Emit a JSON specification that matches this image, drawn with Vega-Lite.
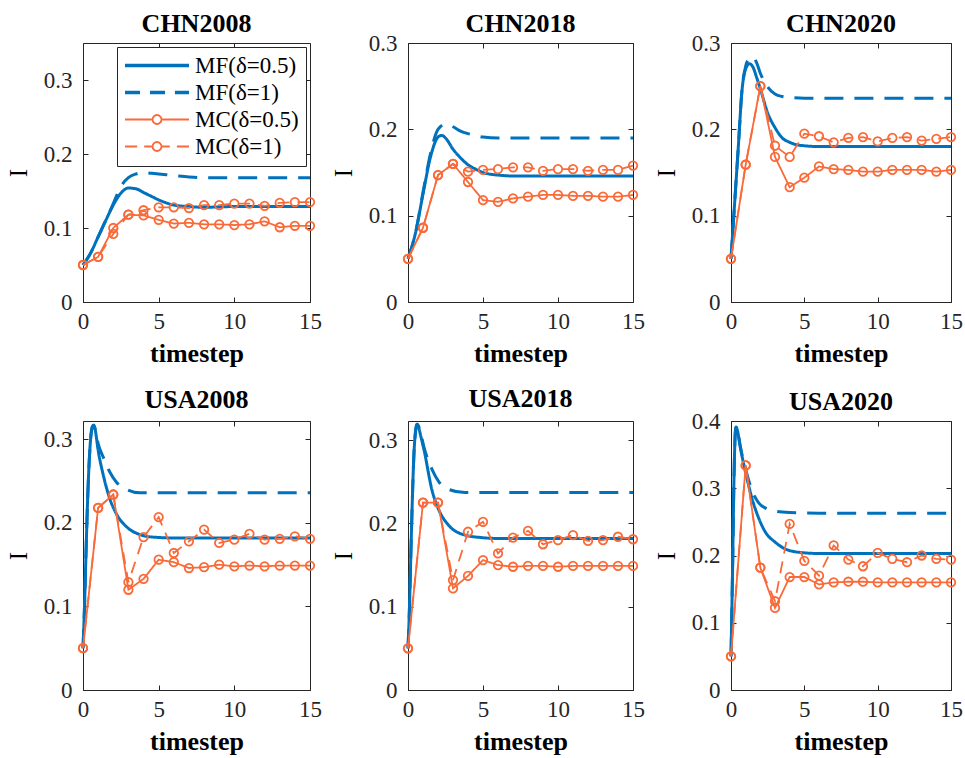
{
"$schema": "https://vega.github.io/schema/vega-lite/v6.json",
"padding": {"left": 5, "top": 10, "right": 0, "bottom": 0},
"datasets": {
"mf": [
{"p":"CHN2008","s":"MF(δ=0.5)","t":0,"v":0.05},{"p":"CHN2008","s":"MF(δ=0.5)","t":0.5,"v":0.066},{"p":"CHN2008","s":"MF(δ=0.5)","t":1,"v":0.088},{"p":"CHN2008","s":"MF(δ=0.5)","t":1.5,"v":0.11},{"p":"CHN2008","s":"MF(δ=0.5)","t":2,"v":0.131},{"p":"CHN2008","s":"MF(δ=0.5)","t":2.5,"v":0.147},{"p":"CHN2008","s":"MF(δ=0.5)","t":3,"v":0.154},{"p":"CHN2008","s":"MF(δ=0.5)","t":3.5,"v":0.153},{"p":"CHN2008","s":"MF(δ=0.5)","t":4,"v":0.148},{"p":"CHN2008","s":"MF(δ=0.5)","t":4.5,"v":0.143},{"p":"CHN2008","s":"MF(δ=0.5)","t":5,"v":0.138},{"p":"CHN2008","s":"MF(δ=0.5)","t":5.5,"v":0.134},{"p":"CHN2008","s":"MF(δ=0.5)","t":6,"v":0.131},{"p":"CHN2008","s":"MF(δ=0.5)","t":7,"v":0.129},{"p":"CHN2008","s":"MF(δ=0.5)","t":8,"v":0.128},{"p":"CHN2008","s":"MF(δ=0.5)","t":10,"v":0.129},{"p":"CHN2008","s":"MF(δ=0.5)","t":12,"v":0.129},{"p":"CHN2008","s":"MF(δ=0.5)","t":15,"v":0.129},
{"p":"CHN2008","s":"MF(δ=1)","t":0,"v":0.05},{"p":"CHN2008","s":"MF(δ=1)","t":0.5,"v":0.066},{"p":"CHN2008","s":"MF(δ=1)","t":1,"v":0.088},{"p":"CHN2008","s":"MF(δ=1)","t":1.5,"v":0.11},{"p":"CHN2008","s":"MF(δ=1)","t":2,"v":0.133},{"p":"CHN2008","s":"MF(δ=1)","t":2.5,"v":0.156},{"p":"CHN2008","s":"MF(δ=1)","t":3,"v":0.168},{"p":"CHN2008","s":"MF(δ=1)","t":3.5,"v":0.173},{"p":"CHN2008","s":"MF(δ=1)","t":4,"v":0.175},{"p":"CHN2008","s":"MF(δ=1)","t":4.5,"v":0.174},{"p":"CHN2008","s":"MF(δ=1)","t":5,"v":0.173},{"p":"CHN2008","s":"MF(δ=1)","t":6,"v":0.171},{"p":"CHN2008","s":"MF(δ=1)","t":7,"v":0.169},{"p":"CHN2008","s":"MF(δ=1)","t":8,"v":0.168},{"p":"CHN2008","s":"MF(δ=1)","t":10,"v":0.168},{"p":"CHN2008","s":"MF(δ=1)","t":12,"v":0.168},{"p":"CHN2008","s":"MF(δ=1)","t":15,"v":0.168},
{"p":"CHN2018","s":"MF(δ=0.5)","t":0,"v":0.05},{"p":"CHN2018","s":"MF(δ=0.5)","t":0.5,"v":0.08},{"p":"CHN2018","s":"MF(δ=0.5)","t":1,"v":0.125},{"p":"CHN2018","s":"MF(δ=0.5)","t":1.5,"v":0.168},{"p":"CHN2018","s":"MF(δ=0.5)","t":2,"v":0.191},{"p":"CHN2018","s":"MF(δ=0.5)","t":2.25,"v":0.193},{"p":"CHN2018","s":"MF(δ=0.5)","t":2.5,"v":0.19},{"p":"CHN2018","s":"MF(δ=0.5)","t":3,"v":0.177},{"p":"CHN2018","s":"MF(δ=0.5)","t":3.5,"v":0.167},{"p":"CHN2018","s":"MF(δ=0.5)","t":4,"v":0.159},{"p":"CHN2018","s":"MF(δ=0.5)","t":4.5,"v":0.154},{"p":"CHN2018","s":"MF(δ=0.5)","t":5,"v":0.15},{"p":"CHN2018","s":"MF(δ=0.5)","t":5.5,"v":0.148},{"p":"CHN2018","s":"MF(δ=0.5)","t":6,"v":0.147},{"p":"CHN2018","s":"MF(δ=0.5)","t":7,"v":0.146},{"p":"CHN2018","s":"MF(δ=0.5)","t":8,"v":0.146},{"p":"CHN2018","s":"MF(δ=0.5)","t":10,"v":0.146},{"p":"CHN2018","s":"MF(δ=0.5)","t":15,"v":0.146},
{"p":"CHN2018","s":"MF(δ=1)","t":0,"v":0.05},{"p":"CHN2018","s":"MF(δ=1)","t":0.5,"v":0.08},{"p":"CHN2018","s":"MF(δ=1)","t":1,"v":0.127},{"p":"CHN2018","s":"MF(δ=1)","t":1.5,"v":0.172},{"p":"CHN2018","s":"MF(δ=1)","t":2,"v":0.2},{"p":"CHN2018","s":"MF(δ=1)","t":2.5,"v":0.206},{"p":"CHN2018","s":"MF(δ=1)","t":3,"v":0.203},{"p":"CHN2018","s":"MF(δ=1)","t":3.5,"v":0.198},{"p":"CHN2018","s":"MF(δ=1)","t":4,"v":0.195},{"p":"CHN2018","s":"MF(δ=1)","t":4.5,"v":0.193},{"p":"CHN2018","s":"MF(δ=1)","t":5,"v":0.191},{"p":"CHN2018","s":"MF(δ=1)","t":6,"v":0.19},{"p":"CHN2018","s":"MF(δ=1)","t":8,"v":0.19},{"p":"CHN2018","s":"MF(δ=1)","t":10,"v":0.19},{"p":"CHN2018","s":"MF(δ=1)","t":15,"v":0.19},
{"p":"CHN2020","s":"MF(δ=0.5)","t":0,"v":0.05},{"p":"CHN2020","s":"MF(δ=0.5)","t":0.25,"v":0.115},{"p":"CHN2020","s":"MF(δ=0.5)","t":0.5,"v":0.18},{"p":"CHN2020","s":"MF(δ=0.5)","t":0.75,"v":0.245},{"p":"CHN2020","s":"MF(δ=0.5)","t":1,"v":0.27},{"p":"CHN2020","s":"MF(δ=0.5)","t":1.25,"v":0.276},{"p":"CHN2020","s":"MF(δ=0.5)","t":1.5,"v":0.272},{"p":"CHN2020","s":"MF(δ=0.5)","t":1.75,"v":0.26},{"p":"CHN2020","s":"MF(δ=0.5)","t":2,"v":0.247},{"p":"CHN2020","s":"MF(δ=0.5)","t":2.5,"v":0.219},{"p":"CHN2020","s":"MF(δ=0.5)","t":3,"v":0.202},{"p":"CHN2020","s":"MF(δ=0.5)","t":3.5,"v":0.19},{"p":"CHN2020","s":"MF(δ=0.5)","t":4,"v":0.185},{"p":"CHN2020","s":"MF(δ=0.5)","t":4.5,"v":0.182},{"p":"CHN2020","s":"MF(δ=0.5)","t":5,"v":0.181},{"p":"CHN2020","s":"MF(δ=0.5)","t":6,"v":0.18},{"p":"CHN2020","s":"MF(δ=0.5)","t":8,"v":0.18},{"p":"CHN2020","s":"MF(δ=0.5)","t":15,"v":0.18},
{"p":"CHN2020","s":"MF(δ=1)","t":0,"v":0.05},{"p":"CHN2020","s":"MF(δ=1)","t":0.25,"v":0.115},{"p":"CHN2020","s":"MF(δ=1)","t":0.5,"v":0.18},{"p":"CHN2020","s":"MF(δ=1)","t":0.75,"v":0.246},{"p":"CHN2020","s":"MF(δ=1)","t":1,"v":0.273},{"p":"CHN2020","s":"MF(δ=1)","t":1.25,"v":0.282},{"p":"CHN2020","s":"MF(δ=1)","t":1.5,"v":0.284},{"p":"CHN2020","s":"MF(δ=1)","t":1.75,"v":0.277},{"p":"CHN2020","s":"MF(δ=1)","t":2,"v":0.265},{"p":"CHN2020","s":"MF(δ=1)","t":2.5,"v":0.249},{"p":"CHN2020","s":"MF(δ=1)","t":3,"v":0.241},{"p":"CHN2020","s":"MF(δ=1)","t":3.5,"v":0.238},{"p":"CHN2020","s":"MF(δ=1)","t":4,"v":0.237},{"p":"CHN2020","s":"MF(δ=1)","t":5,"v":0.236},{"p":"CHN2020","s":"MF(δ=1)","t":8,"v":0.236},{"p":"CHN2020","s":"MF(δ=1)","t":15,"v":0.236},
{"p":"USA2008","s":"MF(δ=0.5)","t":0,"v":0.05},{"p":"USA2008","s":"MF(δ=0.5)","t":0.1,"v":0.1},{"p":"USA2008","s":"MF(δ=0.5)","t":0.2,"v":0.165},{"p":"USA2008","s":"MF(δ=0.5)","t":0.3,"v":0.225},{"p":"USA2008","s":"MF(δ=0.5)","t":0.4,"v":0.27},{"p":"USA2008","s":"MF(δ=0.5)","t":0.5,"v":0.3},{"p":"USA2008","s":"MF(δ=0.5)","t":0.6,"v":0.314},{"p":"USA2008","s":"MF(δ=0.5)","t":0.7,"v":0.317},{"p":"USA2008","s":"MF(δ=0.5)","t":0.8,"v":0.312},{"p":"USA2008","s":"MF(δ=0.5)","t":1,"v":0.287},{"p":"USA2008","s":"MF(δ=0.5)","t":1.33,"v":0.258},{"p":"USA2008","s":"MF(δ=0.5)","t":1.77,"v":0.229},{"p":"USA2008","s":"MF(δ=0.5)","t":2.2,"v":0.211},{"p":"USA2008","s":"MF(δ=0.5)","t":2.9,"v":0.195},{"p":"USA2008","s":"MF(δ=0.5)","t":3.77,"v":0.186},{"p":"USA2008","s":"MF(δ=0.5)","t":4.65,"v":0.183},{"p":"USA2008","s":"MF(δ=0.5)","t":6,"v":0.182},{"p":"USA2008","s":"MF(δ=0.5)","t":15,"v":0.182},
{"p":"USA2008","s":"MF(δ=1)","t":0,"v":0.05},{"p":"USA2008","s":"MF(δ=1)","t":0.1,"v":0.1},{"p":"USA2008","s":"MF(δ=1)","t":0.2,"v":0.165},{"p":"USA2008","s":"MF(δ=1)","t":0.3,"v":0.225},{"p":"USA2008","s":"MF(δ=1)","t":0.4,"v":0.27},{"p":"USA2008","s":"MF(δ=1)","t":0.5,"v":0.3},{"p":"USA2008","s":"MF(δ=1)","t":0.6,"v":0.314},{"p":"USA2008","s":"MF(δ=1)","t":0.7,"v":0.317},{"p":"USA2008","s":"MF(δ=1)","t":0.8,"v":0.313},{"p":"USA2008","s":"MF(δ=1)","t":1,"v":0.295},{"p":"USA2008","s":"MF(δ=1)","t":1.33,"v":0.279},{"p":"USA2008","s":"MF(δ=1)","t":1.77,"v":0.261},{"p":"USA2008","s":"MF(δ=1)","t":2.2,"v":0.249},{"p":"USA2008","s":"MF(δ=1)","t":2.9,"v":0.24},{"p":"USA2008","s":"MF(δ=1)","t":3.77,"v":0.236},{"p":"USA2008","s":"MF(δ=1)","t":6,"v":0.236},{"p":"USA2008","s":"MF(δ=1)","t":15,"v":0.236},
{"p":"USA2018","s":"MF(δ=0.5)","t":0,"v":0.05},{"p":"USA2018","s":"MF(δ=0.5)","t":0.1,"v":0.1},{"p":"USA2018","s":"MF(δ=0.5)","t":0.2,"v":0.17},{"p":"USA2018","s":"MF(δ=0.5)","t":0.3,"v":0.235},{"p":"USA2018","s":"MF(δ=0.5)","t":0.4,"v":0.285},{"p":"USA2018","s":"MF(δ=0.5)","t":0.5,"v":0.31},{"p":"USA2018","s":"MF(δ=0.5)","t":0.6,"v":0.319},{"p":"USA2018","s":"MF(δ=0.5)","t":0.7,"v":0.316},{"p":"USA2018","s":"MF(δ=0.5)","t":0.85,"v":0.305},{"p":"USA2018","s":"MF(δ=0.5)","t":1.06,"v":0.289},{"p":"USA2018","s":"MF(δ=0.5)","t":1.6,"v":0.24},{"p":"USA2018","s":"MF(δ=0.5)","t":2.06,"v":0.216},{"p":"USA2018","s":"MF(δ=0.5)","t":2.7,"v":0.198},{"p":"USA2018","s":"MF(δ=0.5)","t":3.8,"v":0.186},{"p":"USA2018","s":"MF(δ=0.5)","t":4.9,"v":0.183},{"p":"USA2018","s":"MF(δ=0.5)","t":6,"v":0.182},{"p":"USA2018","s":"MF(δ=0.5)","t":15,"v":0.182},
{"p":"USA2018","s":"MF(δ=1)","t":0,"v":0.05},{"p":"USA2018","s":"MF(δ=1)","t":0.1,"v":0.1},{"p":"USA2018","s":"MF(δ=1)","t":0.2,"v":0.17},{"p":"USA2018","s":"MF(δ=1)","t":0.3,"v":0.235},{"p":"USA2018","s":"MF(δ=1)","t":0.4,"v":0.285},{"p":"USA2018","s":"MF(δ=1)","t":0.5,"v":0.31},{"p":"USA2018","s":"MF(δ=1)","t":0.6,"v":0.319},{"p":"USA2018","s":"MF(δ=1)","t":0.7,"v":0.317},{"p":"USA2018","s":"MF(δ=1)","t":0.85,"v":0.308},{"p":"USA2018","s":"MF(δ=1)","t":1.06,"v":0.292},{"p":"USA2018","s":"MF(δ=1)","t":1.6,"v":0.265},{"p":"USA2018","s":"MF(δ=1)","t":2.06,"v":0.25},{"p":"USA2018","s":"MF(δ=1)","t":2.7,"v":0.241},{"p":"USA2018","s":"MF(δ=1)","t":3.8,"v":0.237},{"p":"USA2018","s":"MF(δ=1)","t":6,"v":0.237},{"p":"USA2018","s":"MF(δ=1)","t":15,"v":0.237},
{"p":"USA2020","s":"MF(δ=0.5)","t":0,"v":0.05},{"p":"USA2020","s":"MF(δ=0.5)","t":0.1,"v":0.17},{"p":"USA2020","s":"MF(δ=0.5)","t":0.2,"v":0.31},{"p":"USA2020","s":"MF(δ=0.5)","t":0.3,"v":0.385},{"p":"USA2020","s":"MF(δ=0.5)","t":0.35,"v":0.391},{"p":"USA2020","s":"MF(δ=0.5)","t":0.45,"v":0.385},{"p":"USA2020","s":"MF(δ=0.5)","t":0.6,"v":0.365},{"p":"USA2020","s":"MF(δ=0.5)","t":0.75,"v":0.348},{"p":"USA2020","s":"MF(δ=0.5)","t":1,"v":0.323},{"p":"USA2020","s":"MF(δ=0.5)","t":1.43,"v":0.285},{"p":"USA2020","s":"MF(δ=0.5)","t":1.9,"v":0.255},{"p":"USA2020","s":"MF(δ=0.5)","t":2.34,"v":0.235},{"p":"USA2020","s":"MF(δ=0.5)","t":3,"v":0.22},{"p":"USA2020","s":"MF(δ=0.5)","t":3.9,"v":0.208},{"p":"USA2020","s":"MF(δ=0.5)","t":5,"v":0.204},{"p":"USA2020","s":"MF(δ=0.5)","t":6,"v":0.203},{"p":"USA2020","s":"MF(δ=0.5)","t":15,"v":0.203},
{"p":"USA2020","s":"MF(δ=1)","t":0,"v":0.05},{"p":"USA2020","s":"MF(δ=1)","t":0.1,"v":0.17},{"p":"USA2020","s":"MF(δ=1)","t":0.2,"v":0.31},{"p":"USA2020","s":"MF(δ=1)","t":0.3,"v":0.385},{"p":"USA2020","s":"MF(δ=1)","t":0.35,"v":0.391},{"p":"USA2020","s":"MF(δ=1)","t":0.45,"v":0.386},{"p":"USA2020","s":"MF(δ=1)","t":0.6,"v":0.367},{"p":"USA2020","s":"MF(δ=1)","t":0.75,"v":0.35},{"p":"USA2020","s":"MF(δ=1)","t":1,"v":0.328},{"p":"USA2020","s":"MF(δ=1)","t":1.43,"v":0.297},{"p":"USA2020","s":"MF(δ=1)","t":1.9,"v":0.278},{"p":"USA2020","s":"MF(δ=1)","t":2.4,"v":0.27},{"p":"USA2020","s":"MF(δ=1)","t":3,"v":0.266},{"p":"USA2020","s":"MF(δ=1)","t":4,"v":0.264},{"p":"USA2020","s":"MF(δ=1)","t":6,"v":0.263},{"p":"USA2020","s":"MF(δ=1)","t":15,"v":0.263}
],
"mc": [
{"p":"CHN2008","s":"MC(δ=0.5)","t":0,"v":0.05},{"p":"CHN2008","s":"MC(δ=0.5)","t":1,"v":0.061},{"p":"CHN2008","s":"MC(δ=0.5)","t":2,"v":0.1},{"p":"CHN2008","s":"MC(δ=0.5)","t":3,"v":0.118},{"p":"CHN2008","s":"MC(δ=0.5)","t":4,"v":0.117},{"p":"CHN2008","s":"MC(δ=0.5)","t":5,"v":0.111},{"p":"CHN2008","s":"MC(δ=0.5)","t":6,"v":0.106},{"p":"CHN2008","s":"MC(δ=0.5)","t":7,"v":0.107},{"p":"CHN2008","s":"MC(δ=0.5)","t":8,"v":0.105},{"p":"CHN2008","s":"MC(δ=0.5)","t":9,"v":0.105},{"p":"CHN2008","s":"MC(δ=0.5)","t":10,"v":0.104},{"p":"CHN2008","s":"MC(δ=0.5)","t":11,"v":0.105},{"p":"CHN2008","s":"MC(δ=0.5)","t":12,"v":0.109},{"p":"CHN2008","s":"MC(δ=0.5)","t":13,"v":0.101},{"p":"CHN2008","s":"MC(δ=0.5)","t":14,"v":0.103},{"p":"CHN2008","s":"MC(δ=0.5)","t":15,"v":0.103},
{"p":"CHN2008","s":"MC(δ=1)","t":0,"v":0.05},{"p":"CHN2008","s":"MC(δ=1)","t":1,"v":0.061},{"p":"CHN2008","s":"MC(δ=1)","t":2,"v":0.092},{"p":"CHN2008","s":"MC(δ=1)","t":3,"v":0.118},{"p":"CHN2008","s":"MC(δ=1)","t":4,"v":0.124},{"p":"CHN2008","s":"MC(δ=1)","t":5,"v":0.128},{"p":"CHN2008","s":"MC(δ=1)","t":6,"v":0.128},{"p":"CHN2008","s":"MC(δ=1)","t":7,"v":0.127},{"p":"CHN2008","s":"MC(δ=1)","t":8,"v":0.131},{"p":"CHN2008","s":"MC(δ=1)","t":9,"v":0.131},{"p":"CHN2008","s":"MC(δ=1)","t":10,"v":0.133},{"p":"CHN2008","s":"MC(δ=1)","t":11,"v":0.133},{"p":"CHN2008","s":"MC(δ=1)","t":12,"v":0.13},{"p":"CHN2008","s":"MC(δ=1)","t":13,"v":0.134},{"p":"CHN2008","s":"MC(δ=1)","t":14,"v":0.135},{"p":"CHN2008","s":"MC(δ=1)","t":15,"v":0.135},
{"p":"CHN2018","s":"MC(δ=0.5)","t":0,"v":0.05},{"p":"CHN2018","s":"MC(δ=0.5)","t":1,"v":0.086},{"p":"CHN2018","s":"MC(δ=0.5)","t":2,"v":0.147},{"p":"CHN2018","s":"MC(δ=0.5)","t":3,"v":0.16},{"p":"CHN2018","s":"MC(δ=0.5)","t":4,"v":0.139},{"p":"CHN2018","s":"MC(δ=0.5)","t":5,"v":0.118},{"p":"CHN2018","s":"MC(δ=0.5)","t":6,"v":0.116},{"p":"CHN2018","s":"MC(δ=0.5)","t":7,"v":0.12},{"p":"CHN2018","s":"MC(δ=0.5)","t":8,"v":0.122},{"p":"CHN2018","s":"MC(δ=0.5)","t":9,"v":0.124},{"p":"CHN2018","s":"MC(δ=0.5)","t":10,"v":0.124},{"p":"CHN2018","s":"MC(δ=0.5)","t":11,"v":0.123},{"p":"CHN2018","s":"MC(δ=0.5)","t":12,"v":0.123},{"p":"CHN2018","s":"MC(δ=0.5)","t":13,"v":0.122},{"p":"CHN2018","s":"MC(δ=0.5)","t":14,"v":0.122},{"p":"CHN2018","s":"MC(δ=0.5)","t":15,"v":0.124},
{"p":"CHN2018","s":"MC(δ=1)","t":0,"v":0.05},{"p":"CHN2018","s":"MC(δ=1)","t":1,"v":0.086},{"p":"CHN2018","s":"MC(δ=1)","t":2,"v":0.147},{"p":"CHN2018","s":"MC(δ=1)","t":3,"v":0.16},{"p":"CHN2018","s":"MC(δ=1)","t":4,"v":0.151},{"p":"CHN2018","s":"MC(δ=1)","t":5,"v":0.153},{"p":"CHN2018","s":"MC(δ=1)","t":6,"v":0.154},{"p":"CHN2018","s":"MC(δ=1)","t":7,"v":0.156},{"p":"CHN2018","s":"MC(δ=1)","t":8,"v":0.156},{"p":"CHN2018","s":"MC(δ=1)","t":9,"v":0.152},{"p":"CHN2018","s":"MC(δ=1)","t":10,"v":0.154},{"p":"CHN2018","s":"MC(δ=1)","t":11,"v":0.154},{"p":"CHN2018","s":"MC(δ=1)","t":12,"v":0.152},{"p":"CHN2018","s":"MC(δ=1)","t":13,"v":0.153},{"p":"CHN2018","s":"MC(δ=1)","t":14,"v":0.153},{"p":"CHN2018","s":"MC(δ=1)","t":15,"v":0.158},
{"p":"CHN2020","s":"MC(δ=0.5)","t":0,"v":0.05},{"p":"CHN2020","s":"MC(δ=0.5)","t":1,"v":0.159},{"p":"CHN2020","s":"MC(δ=0.5)","t":2,"v":0.25},{"p":"CHN2020","s":"MC(δ=0.5)","t":3,"v":0.168},{"p":"CHN2020","s":"MC(δ=0.5)","t":4,"v":0.133},{"p":"CHN2020","s":"MC(δ=0.5)","t":5,"v":0.144},{"p":"CHN2020","s":"MC(δ=0.5)","t":6,"v":0.157},{"p":"CHN2020","s":"MC(δ=0.5)","t":7,"v":0.154},{"p":"CHN2020","s":"MC(δ=0.5)","t":8,"v":0.153},{"p":"CHN2020","s":"MC(δ=0.5)","t":9,"v":0.151},{"p":"CHN2020","s":"MC(δ=0.5)","t":10,"v":0.151},{"p":"CHN2020","s":"MC(δ=0.5)","t":11,"v":0.153},{"p":"CHN2020","s":"MC(δ=0.5)","t":12,"v":0.153},{"p":"CHN2020","s":"MC(δ=0.5)","t":13,"v":0.153},{"p":"CHN2020","s":"MC(δ=0.5)","t":14,"v":0.151},{"p":"CHN2020","s":"MC(δ=0.5)","t":15,"v":0.153},
{"p":"CHN2020","s":"MC(δ=1)","t":0,"v":0.05},{"p":"CHN2020","s":"MC(δ=1)","t":1,"v":0.159},{"p":"CHN2020","s":"MC(δ=1)","t":2,"v":0.25},{"p":"CHN2020","s":"MC(δ=1)","t":3,"v":0.181},{"p":"CHN2020","s":"MC(δ=1)","t":4,"v":0.168},{"p":"CHN2020","s":"MC(δ=1)","t":5,"v":0.195},{"p":"CHN2020","s":"MC(δ=1)","t":6,"v":0.192},{"p":"CHN2020","s":"MC(δ=1)","t":7,"v":0.185},{"p":"CHN2020","s":"MC(δ=1)","t":8,"v":0.19},{"p":"CHN2020","s":"MC(δ=1)","t":9,"v":0.191},{"p":"CHN2020","s":"MC(δ=1)","t":10,"v":0.186},{"p":"CHN2020","s":"MC(δ=1)","t":11,"v":0.19},{"p":"CHN2020","s":"MC(δ=1)","t":12,"v":0.191},{"p":"CHN2020","s":"MC(δ=1)","t":13,"v":0.187},{"p":"CHN2020","s":"MC(δ=1)","t":14,"v":0.189},{"p":"CHN2020","s":"MC(δ=1)","t":15,"v":0.191},
{"p":"USA2008","s":"MC(δ=0.5)","t":0,"v":0.05},{"p":"USA2008","s":"MC(δ=0.5)","t":1,"v":0.218},{"p":"USA2008","s":"MC(δ=0.5)","t":2,"v":0.234},{"p":"USA2008","s":"MC(δ=0.5)","t":3,"v":0.12},{"p":"USA2008","s":"MC(δ=0.5)","t":4,"v":0.133},{"p":"USA2008","s":"MC(δ=0.5)","t":5,"v":0.156},{"p":"USA2008","s":"MC(δ=0.5)","t":6,"v":0.153},{"p":"USA2008","s":"MC(δ=0.5)","t":7,"v":0.146},{"p":"USA2008","s":"MC(δ=0.5)","t":8,"v":0.147},{"p":"USA2008","s":"MC(δ=0.5)","t":9,"v":0.15},{"p":"USA2008","s":"MC(δ=0.5)","t":10,"v":0.148},{"p":"USA2008","s":"MC(δ=0.5)","t":11,"v":0.149},{"p":"USA2008","s":"MC(δ=0.5)","t":12,"v":0.148},{"p":"USA2008","s":"MC(δ=0.5)","t":13,"v":0.149},{"p":"USA2008","s":"MC(δ=0.5)","t":14,"v":0.149},{"p":"USA2008","s":"MC(δ=0.5)","t":15,"v":0.149},
{"p":"USA2008","s":"MC(δ=1)","t":0,"v":0.05},{"p":"USA2008","s":"MC(δ=1)","t":1,"v":0.218},{"p":"USA2008","s":"MC(δ=1)","t":2,"v":0.234},{"p":"USA2008","s":"MC(δ=1)","t":3,"v":0.129},{"p":"USA2008","s":"MC(δ=1)","t":4,"v":0.183},{"p":"USA2008","s":"MC(δ=1)","t":5,"v":0.207},{"p":"USA2008","s":"MC(δ=1)","t":6,"v":0.164},{"p":"USA2008","s":"MC(δ=1)","t":7,"v":0.178},{"p":"USA2008","s":"MC(δ=1)","t":8,"v":0.192},{"p":"USA2008","s":"MC(δ=1)","t":9,"v":0.176},{"p":"USA2008","s":"MC(δ=1)","t":10,"v":0.18},{"p":"USA2008","s":"MC(δ=1)","t":11,"v":0.187},{"p":"USA2008","s":"MC(δ=1)","t":12,"v":0.18},{"p":"USA2008","s":"MC(δ=1)","t":13,"v":0.181},{"p":"USA2008","s":"MC(δ=1)","t":14,"v":0.184},{"p":"USA2008","s":"MC(δ=1)","t":15,"v":0.181},
{"p":"USA2018","s":"MC(δ=0.5)","t":0,"v":0.05},{"p":"USA2018","s":"MC(δ=0.5)","t":1,"v":0.225},{"p":"USA2018","s":"MC(δ=0.5)","t":2,"v":0.225},{"p":"USA2018","s":"MC(δ=0.5)","t":3,"v":0.122},{"p":"USA2018","s":"MC(δ=0.5)","t":4,"v":0.137},{"p":"USA2018","s":"MC(δ=0.5)","t":5,"v":0.156},{"p":"USA2018","s":"MC(δ=0.5)","t":6,"v":0.15},{"p":"USA2018","s":"MC(δ=0.5)","t":7,"v":0.148},{"p":"USA2018","s":"MC(δ=0.5)","t":8,"v":0.149},{"p":"USA2018","s":"MC(δ=0.5)","t":9,"v":0.149},{"p":"USA2018","s":"MC(δ=0.5)","t":10,"v":0.148},{"p":"USA2018","s":"MC(δ=0.5)","t":11,"v":0.149},{"p":"USA2018","s":"MC(δ=0.5)","t":12,"v":0.149},{"p":"USA2018","s":"MC(δ=0.5)","t":13,"v":0.149},{"p":"USA2018","s":"MC(δ=0.5)","t":14,"v":0.149},{"p":"USA2018","s":"MC(δ=0.5)","t":15,"v":0.149},
{"p":"USA2018","s":"MC(δ=1)","t":0,"v":0.05},{"p":"USA2018","s":"MC(δ=1)","t":1,"v":0.225},{"p":"USA2018","s":"MC(δ=1)","t":2,"v":0.225},{"p":"USA2018","s":"MC(δ=1)","t":3,"v":0.132},{"p":"USA2018","s":"MC(δ=1)","t":4,"v":0.19},{"p":"USA2018","s":"MC(δ=1)","t":5,"v":0.202},{"p":"USA2018","s":"MC(δ=1)","t":6,"v":0.164},{"p":"USA2018","s":"MC(δ=1)","t":7,"v":0.183},{"p":"USA2018","s":"MC(δ=1)","t":8,"v":0.191},{"p":"USA2018","s":"MC(δ=1)","t":9,"v":0.175},{"p":"USA2018","s":"MC(δ=1)","t":10,"v":0.18},{"p":"USA2018","s":"MC(δ=1)","t":11,"v":0.186},{"p":"USA2018","s":"MC(δ=1)","t":12,"v":0.179},{"p":"USA2018","s":"MC(δ=1)","t":13,"v":0.18},{"p":"USA2018","s":"MC(δ=1)","t":14,"v":0.184},{"p":"USA2018","s":"MC(δ=1)","t":15,"v":0.181},
{"p":"USA2020","s":"MC(δ=0.5)","t":0,"v":0.05},{"p":"USA2020","s":"MC(δ=0.5)","t":1,"v":0.334},{"p":"USA2020","s":"MC(δ=0.5)","t":2,"v":0.182},{"p":"USA2020","s":"MC(δ=0.5)","t":3,"v":0.122},{"p":"USA2020","s":"MC(δ=0.5)","t":4,"v":0.168},{"p":"USA2020","s":"MC(δ=0.5)","t":5,"v":0.168},{"p":"USA2020","s":"MC(δ=0.5)","t":6,"v":0.157},{"p":"USA2020","s":"MC(δ=0.5)","t":7,"v":0.16},{"p":"USA2020","s":"MC(δ=0.5)","t":8,"v":0.161},{"p":"USA2020","s":"MC(δ=0.5)","t":9,"v":0.161},{"p":"USA2020","s":"MC(δ=0.5)","t":10,"v":0.16},{"p":"USA2020","s":"MC(δ=0.5)","t":11,"v":0.16},{"p":"USA2020","s":"MC(δ=0.5)","t":12,"v":0.16},{"p":"USA2020","s":"MC(δ=0.5)","t":13,"v":0.16},{"p":"USA2020","s":"MC(δ=0.5)","t":14,"v":0.16},{"p":"USA2020","s":"MC(δ=0.5)","t":15,"v":0.16},
{"p":"USA2020","s":"MC(δ=1)","t":0,"v":0.05},{"p":"USA2020","s":"MC(δ=1)","t":1,"v":0.334},{"p":"USA2020","s":"MC(δ=1)","t":2,"v":0.182},{"p":"USA2020","s":"MC(δ=1)","t":3,"v":0.132},{"p":"USA2020","s":"MC(δ=1)","t":4,"v":0.247},{"p":"USA2020","s":"MC(δ=1)","t":5,"v":0.192},{"p":"USA2020","s":"MC(δ=1)","t":6,"v":0.17},{"p":"USA2020","s":"MC(δ=1)","t":7,"v":0.215},{"p":"USA2020","s":"MC(δ=1)","t":8,"v":0.194},{"p":"USA2020","s":"MC(δ=1)","t":9,"v":0.184},{"p":"USA2020","s":"MC(δ=1)","t":10,"v":0.204},{"p":"USA2020","s":"MC(δ=1)","t":11,"v":0.195},{"p":"USA2020","s":"MC(δ=1)","t":12,"v":0.19},{"p":"USA2020","s":"MC(δ=1)","t":13,"v":0.2},{"p":"USA2020","s":"MC(δ=1)","t":14,"v":0.195},{"p":"USA2020","s":"MC(δ=1)","t":15,"v":0.194}
],
"keys": [
{"s":"MF(δ=0.5)","t":15,"v":0.3},{"s":"MF(δ=1)","t":15,"v":0.3},{"s":"MC(δ=0.5)","t":15,"v":0.3},{"s":"MC(δ=1)","t":15,"v":0.3}
]
},
"vconcat": [
{"hconcat": [
{"title": {"text": "CHN2008", "offset": 6}, "width": 227, "height": 259,
 "resolve": {"axis": {"x": "independent", "y": "independent"}},
 "layer": [
  {"data": {"name": "keys"},
   "mark": {"type": "point", "filled": false, "size": 0, "strokeWidth": 1.8, "opacity": 1},
   "encoding": {
    "x": {"field": "t", "type": "quantitative", "axis": null},
    "y": {"field": "v", "type": "quantitative", "axis": null},
    "color": {"field": "s", "type": "nominal", "scale": {"domain": ["MF(δ=0.5)", "MF(δ=1)", "MC(δ=0.5)", "MC(δ=1)"], "range": ["#0072BD", "#0072BD", "#FA6A38", "#FA6A38"]}, "legend": {"orient": "top-right", "offset": 4, "title": null, "padding": 7, "strokeColor": "#262626", "fillColor": "white", "labelFont": "Liberation Serif", "labelFontSize": 23, "labelColor": "#000000", "symbolSize": 4096, "clipHeight": 23, "rowPadding": 3, "labelOffset": 5, "symbolStrokeWidth": 1.8, "symbolOpacity": 1, "symbolFillColor": "transparent"}},
    "shape": {"field": "s", "type": "nominal", "scale": {"domain": ["MF(δ=0.5)", "MF(δ=1)", "MC(δ=0.5)", "MC(δ=1)"], "range": ["M-1,-0.025L1,-0.025M-1,0.025L1,0.025", "M-1,-0.025L-0.53,-0.025M-1,0.025L-0.53,0.025M-0.22,-0.025L0.25,-0.025M-0.22,0.025L0.25,0.025M0.56,-0.025L1,-0.025M0.56,0.025L1,0.025", "M-1,0L-0.14,0M0.14,0L1,0M0.14,0A0.14,0.14,0,1,1,-0.14,0A0.14,0.14,0,1,1,0.14,0", "M-1,0L-0.62,0M-0.4,0L-0.14,0M0.14,0L0.4,0M0.62,0L1,0M0.14,0A0.14,0.14,0,1,1,-0.14,0A0.14,0.14,0,1,1,0.14,0"]}, "legend": {"orient": "top-right", "title": null}}}},
  {"data": {"name": "mf"}, "transform": [{"filter": "datum.p === 'CHN2008'"}],
   "mark": {"type": "line", "interpolate": "monotone", "strokeWidth": 3},
   "encoding": {
    "x": {"field": "t", "type": "quantitative", "scale": {"domain": [0, 15], "nice": false}, "axis": {"values": [0, 5, 10, 15], "title": "timestep"}},
    "y": {"field": "v", "type": "quantitative", "scale": {"domain": [0, 0.35], "nice": false}, "axis": {"values": [0, 0.1, 0.2, 0.3], "title": "I", "format": "~g"}},
    "color": {"field": "s", "type": "nominal"},
    "strokeDash": {"field": "s", "type": "nominal", "scale": {"domain": ["MF(δ=1)", "MF(δ=0.5)", "MC(δ=0.5)", "MC(δ=1)"], "range": [[19, 11], [1, 0], [1, 0], [12, 8]]}, "legend": null}}},
  {"data": {"name": "mc"}, "transform": [{"filter": "datum.p === 'CHN2008'"}],
   "mark": {"type": "line", "strokeWidth": 1.8},
   "encoding": {
    "x": {"field": "t", "type": "quantitative", "axis": null},
    "y": {"field": "v", "type": "quantitative", "axis": null},
    "color": {"field": "s", "type": "nominal"},
    "strokeDash": {"field": "s", "type": "nominal", "legend": null}}},
  {"data": {"name": "mc"}, "transform": [{"filter": "datum.p === 'CHN2008'"}],
   "mark": {"type": "point", "shape": "circle", "filled": false, "size": 72, "strokeWidth": 1.8, "opacity": 1},
   "encoding": {
    "x": {"field": "t", "type": "quantitative", "axis": {"orient": "top", "values": [0, 5, 10, 15], "labels": false, "title": null}},
    "y": {"field": "v", "type": "quantitative", "axis": {"orient": "right", "values": [0, 0.1, 0.2, 0.3], "labels": false, "title": null}},
    "color": {"field": "s", "type": "nominal"}}}
 ]},
{"title": {"text": "CHN2018", "offset": -5}, "width": 225, "height": 259,
 "resolve": {"axis": {"x": "independent", "y": "independent"}},
 "layer": [
  {"data": {"name": "mf"}, "transform": [{"filter": "datum.p === 'CHN2018'"}],
   "mark": {"type": "line", "interpolate": "monotone", "strokeWidth": 3},
   "encoding": {
    "x": {"field": "t", "type": "quantitative", "scale": {"domain": [0, 15], "nice": false}, "axis": {"values": [0, 5, 10, 15], "title": "timestep"}},
    "y": {"field": "v", "type": "quantitative", "scale": {"domain": [0, 0.3], "nice": false}, "axis": {"values": [0, 0.1, 0.2, 0.3], "title": "I", "format": "~g"}},
    "color": {"field": "s", "type": "nominal", "scale": {"domain": ["MF(δ=0.5)", "MF(δ=1)", "MC(δ=0.5)", "MC(δ=1)"], "range": ["#0072BD", "#0072BD", "#FA6A38", "#FA6A38"]}, "legend": null},
    "strokeDash": {"field": "s", "type": "nominal", "scale": {"domain": ["MF(δ=0.5)", "MF(δ=1)", "MC(δ=0.5)", "MC(δ=1)"], "range": [[1, 0], [19, 11], [1, 0], [12, 8]]}, "legend": null}}},
  {"data": {"name": "mc"}, "transform": [{"filter": "datum.p === 'CHN2018'"}],
   "mark": {"type": "line", "strokeWidth": 1.8},
   "encoding": {
    "x": {"field": "t", "type": "quantitative", "axis": null},
    "y": {"field": "v", "type": "quantitative", "axis": null},
    "color": {"field": "s", "type": "nominal", "legend": null},
    "strokeDash": {"field": "s", "type": "nominal", "legend": null}}},
  {"data": {"name": "mc"}, "transform": [{"filter": "datum.p === 'CHN2018'"}],
   "mark": {"type": "point", "shape": "circle", "filled": false, "size": 72, "strokeWidth": 1.8, "opacity": 1},
   "encoding": {
    "x": {"field": "t", "type": "quantitative", "axis": {"orient": "top", "values": [0, 5, 10, 15], "labels": false, "title": null}},
    "y": {"field": "v", "type": "quantitative", "axis": {"orient": "right", "values": [0, 0.1, 0.2, 0.3], "labels": false, "title": null}},
    "color": {"field": "s", "type": "nominal", "legend": null}}}
 ]},
{"title": {"text": "CHN2020", "offset": -5}, "width": 220, "height": 259,
 "resolve": {"axis": {"x": "independent", "y": "independent"}},
 "layer": [
  {"data": {"name": "mf"}, "transform": [{"filter": "datum.p === 'CHN2020'"}],
   "mark": {"type": "line", "interpolate": "monotone", "strokeWidth": 3},
   "encoding": {
    "x": {"field": "t", "type": "quantitative", "scale": {"domain": [0, 15], "nice": false}, "axis": {"values": [0, 5, 10, 15], "title": "timestep"}},
    "y": {"field": "v", "type": "quantitative", "scale": {"domain": [0, 0.3], "nice": false}, "axis": {"values": [0, 0.1, 0.2, 0.3], "title": "I", "format": "~g"}},
    "color": {"field": "s", "type": "nominal", "scale": {"domain": ["MF(δ=0.5)", "MF(δ=1)", "MC(δ=0.5)", "MC(δ=1)"], "range": ["#0072BD", "#0072BD", "#FA6A38", "#FA6A38"]}, "legend": null},
    "strokeDash": {"field": "s", "type": "nominal", "scale": {"domain": ["MF(δ=0.5)", "MF(δ=1)", "MC(δ=0.5)", "MC(δ=1)"], "range": [[1, 0], [19, 11], [1, 0], [12, 8]]}, "legend": null}}},
  {"data": {"name": "mc"}, "transform": [{"filter": "datum.p === 'CHN2020'"}],
   "mark": {"type": "line", "strokeWidth": 1.8},
   "encoding": {
    "x": {"field": "t", "type": "quantitative", "axis": null},
    "y": {"field": "v", "type": "quantitative", "axis": null},
    "color": {"field": "s", "type": "nominal", "legend": null},
    "strokeDash": {"field": "s", "type": "nominal", "legend": null}}},
  {"data": {"name": "mc"}, "transform": [{"filter": "datum.p === 'CHN2020'"}],
   "mark": {"type": "point", "shape": "circle", "filled": false, "size": 72, "strokeWidth": 1.8, "opacity": 1},
   "encoding": {
    "x": {"field": "t", "type": "quantitative", "axis": {"orient": "top", "values": [0, 5, 10, 15], "labels": false, "title": null}},
    "y": {"field": "v", "type": "quantitative", "axis": {"orient": "right", "values": [0, 0.1, 0.2, 0.3], "labels": false, "title": null}},
    "color": {"field": "s", "type": "nominal", "legend": null}}}
 ]}
], "spacing": 8, "resolve": {"scale": {"color": "independent", "shape": "independent", "strokeDash": "independent"}}},
{"hconcat": [
{"title": {"text": "USA2008", "offset": 6}, "width": 227, "height": 269,
 "resolve": {"axis": {"x": "independent", "y": "independent"}},
 "layer": [
  {"data": {"name": "mf"}, "transform": [{"filter": "datum.p === 'USA2008'"}],
   "mark": {"type": "line", "interpolate": "monotone", "strokeWidth": 3},
   "encoding": {
    "x": {"field": "t", "type": "quantitative", "scale": {"domain": [0, 15], "nice": false}, "axis": {"values": [0, 5, 10, 15], "title": "timestep"}},
    "y": {"field": "v", "type": "quantitative", "scale": {"domain": [0, 0.322], "nice": false}, "axis": {"values": [0, 0.1, 0.2, 0.3], "title": "I", "format": "~g"}},
    "color": {"field": "s", "type": "nominal", "scale": {"domain": ["MF(δ=0.5)", "MF(δ=1)", "MC(δ=0.5)", "MC(δ=1)"], "range": ["#0072BD", "#0072BD", "#FA6A38", "#FA6A38"]}, "legend": null},
    "strokeDash": {"field": "s", "type": "nominal", "scale": {"domain": ["MF(δ=0.5)", "MF(δ=1)", "MC(δ=0.5)", "MC(δ=1)"], "range": [[1, 0], [19, 11], [1, 0], [12, 8]]}, "legend": null}}},
  {"data": {"name": "mc"}, "transform": [{"filter": "datum.p === 'USA2008'"}],
   "mark": {"type": "line", "strokeWidth": 1.8},
   "encoding": {
    "x": {"field": "t", "type": "quantitative", "axis": null},
    "y": {"field": "v", "type": "quantitative", "axis": null},
    "color": {"field": "s", "type": "nominal", "legend": null},
    "strokeDash": {"field": "s", "type": "nominal", "legend": null}}},
  {"data": {"name": "mc"}, "transform": [{"filter": "datum.p === 'USA2008'"}],
   "mark": {"type": "point", "shape": "circle", "filled": false, "size": 72, "strokeWidth": 1.8, "opacity": 1},
   "encoding": {
    "x": {"field": "t", "type": "quantitative", "axis": {"orient": "top", "values": [0, 5, 10, 15], "labels": false, "title": null}},
    "y": {"field": "v", "type": "quantitative", "axis": {"orient": "right", "values": [0, 0.1, 0.2, 0.3], "labels": false, "title": null}},
    "color": {"field": "s", "type": "nominal", "legend": null}}}
 ]},
{"title": {"text": "USA2018", "offset": 6}, "width": 225, "height": 269,
 "resolve": {"axis": {"x": "independent", "y": "independent"}},
 "layer": [
  {"data": {"name": "mf"}, "transform": [{"filter": "datum.p === 'USA2018'"}],
   "mark": {"type": "line", "interpolate": "monotone", "strokeWidth": 3},
   "encoding": {
    "x": {"field": "t", "type": "quantitative", "scale": {"domain": [0, 15], "nice": false}, "axis": {"values": [0, 5, 10, 15], "title": "timestep"}},
    "y": {"field": "v", "type": "quantitative", "scale": {"domain": [0, 0.323], "nice": false}, "axis": {"values": [0, 0.1, 0.2, 0.3], "title": "I", "format": "~g"}},
    "color": {"field": "s", "type": "nominal", "scale": {"domain": ["MF(δ=0.5)", "MF(δ=1)", "MC(δ=0.5)", "MC(δ=1)"], "range": ["#0072BD", "#0072BD", "#FA6A38", "#FA6A38"]}, "legend": null},
    "strokeDash": {"field": "s", "type": "nominal", "scale": {"domain": ["MF(δ=0.5)", "MF(δ=1)", "MC(δ=0.5)", "MC(δ=1)"], "range": [[1, 0], [19, 11], [1, 0], [12, 8]]}, "legend": null}}},
  {"data": {"name": "mc"}, "transform": [{"filter": "datum.p === 'USA2018'"}],
   "mark": {"type": "line", "strokeWidth": 1.8},
   "encoding": {
    "x": {"field": "t", "type": "quantitative", "axis": null},
    "y": {"field": "v", "type": "quantitative", "axis": null},
    "color": {"field": "s", "type": "nominal", "legend": null},
    "strokeDash": {"field": "s", "type": "nominal", "legend": null}}},
  {"data": {"name": "mc"}, "transform": [{"filter": "datum.p === 'USA2018'"}],
   "mark": {"type": "point", "shape": "circle", "filled": false, "size": 72, "strokeWidth": 1.8, "opacity": 1},
   "encoding": {
    "x": {"field": "t", "type": "quantitative", "axis": {"orient": "top", "values": [0, 5, 10, 15], "labels": false, "title": null}},
    "y": {"field": "v", "type": "quantitative", "axis": {"orient": "right", "values": [0, 0.1, 0.2, 0.3], "labels": false, "title": null}},
    "color": {"field": "s", "type": "nominal", "legend": null}}}
 ]},
{"title": {"text": "USA2020", "offset": -5}, "width": 220, "height": 269,
 "resolve": {"axis": {"x": "independent", "y": "independent"}},
 "layer": [
  {"data": {"name": "mf"}, "transform": [{"filter": "datum.p === 'USA2020'"}],
   "mark": {"type": "line", "interpolate": "monotone", "strokeWidth": 3},
   "encoding": {
    "x": {"field": "t", "type": "quantitative", "scale": {"domain": [0, 15], "nice": false}, "axis": {"values": [0, 5, 10, 15], "title": "timestep"}},
    "y": {"field": "v", "type": "quantitative", "scale": {"domain": [0, 0.4], "nice": false}, "axis": {"values": [0, 0.1, 0.2, 0.3, 0.4], "title": "I", "format": "~g"}},
    "color": {"field": "s", "type": "nominal", "scale": {"domain": ["MF(δ=0.5)", "MF(δ=1)", "MC(δ=0.5)", "MC(δ=1)"], "range": ["#0072BD", "#0072BD", "#FA6A38", "#FA6A38"]}, "legend": null},
    "strokeDash": {"field": "s", "type": "nominal", "scale": {"domain": ["MF(δ=0.5)", "MF(δ=1)", "MC(δ=0.5)", "MC(δ=1)"], "range": [[1, 0], [19, 11], [1, 0], [12, 8]]}, "legend": null}}},
  {"data": {"name": "mc"}, "transform": [{"filter": "datum.p === 'USA2020'"}],
   "mark": {"type": "line", "strokeWidth": 1.8},
   "encoding": {
    "x": {"field": "t", "type": "quantitative", "axis": null},
    "y": {"field": "v", "type": "quantitative", "axis": null},
    "color": {"field": "s", "type": "nominal", "legend": null},
    "strokeDash": {"field": "s", "type": "nominal", "legend": null}}},
  {"data": {"name": "mc"}, "transform": [{"filter": "datum.p === 'USA2020'"}],
   "mark": {"type": "point", "shape": "circle", "filled": false, "size": 72, "strokeWidth": 1.8, "opacity": 1},
   "encoding": {
    "x": {"field": "t", "type": "quantitative", "axis": {"orient": "top", "values": [0, 5, 10, 15], "labels": false, "title": null}},
    "y": {"field": "v", "type": "quantitative", "axis": {"orient": "right", "values": [0, 0.1, 0.2, 0.3, 0.4], "labels": false, "title": null}},
    "color": {"field": "s", "type": "nominal", "legend": null}}}
 ]}
], "spacing": 8, "resolve": {"scale": {"color": "independent", "shape": "independent", "strokeDash": "independent"}}}
],
"spacing": 18,
"resolve": {"scale": {"color": "independent", "shape": "independent", "strokeDash": "independent"}},
"config": {
 "view": {"stroke": "#262626", "strokeWidth": 1},
 "font": "Liberation Serif",
 "axis": {"domain": false, "grid": false, "ticks": true, "tickSize": -5, "tickColor": "#262626", "tickWidth": 1, "labelFlush": false, "labelOverlap": false, "labelFont": "Liberation Serif", "labelFontSize": 23, "labelColor": "#262626", "titleFont": "Liberation Serif", "titleFontSize": 26, "titleColor": "#000000"},
 "axisX": {"labelPadding": 13, "titleFontWeight": "bold", "titlePadding": 7},
 "axisY": {"labelPadding": 16, "titleFontWeight": "normal", "titlePadding": 12, "titleFontSize": 25},
 "title": {"font": "Liberation Serif", "fontSize": 26, "fontWeight": "bold", "color": "#000000", "anchor": "middle"}
}
}
